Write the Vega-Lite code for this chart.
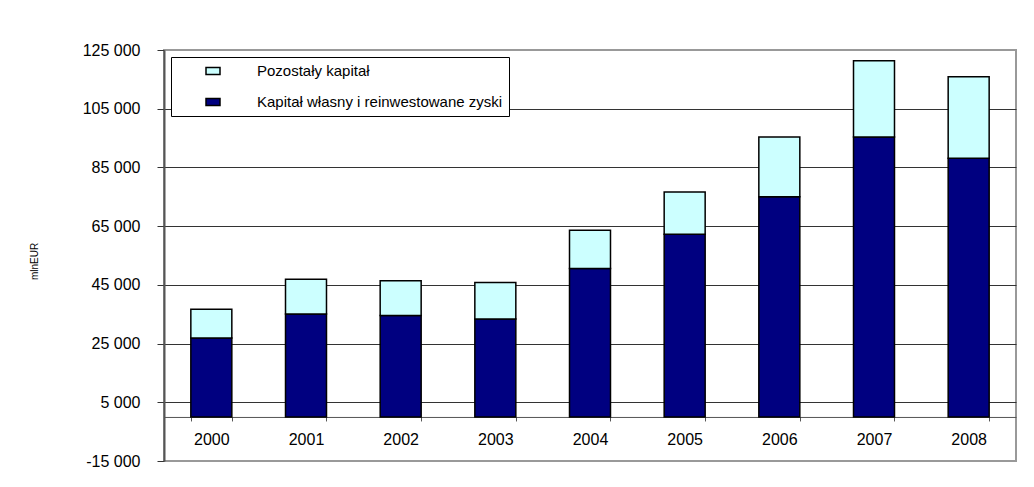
{
  "$schema": "https://vega.github.io/schema/vega-lite/v6.json",
  "width": 852,
  "height": 411,
  "autosize": {"type": "none"},
  "padding": {"left": 164, "top": 50, "right": 18, "bottom": 26},
  "background": "white",
  "data": {
    "values": [
      {"year": "2000", "series": "Kapitał własny i reinwestowane zyski", "value": 26900},
      {"year": "2000", "series": "Pozostały kapitał", "value": 9800},
      {"year": "2001", "series": "Kapitał własny i reinwestowane zyski", "value": 35100},
      {"year": "2001", "series": "Pozostały kapitał", "value": 11800},
      {"year": "2002", "series": "Kapitał własny i reinwestowane zyski", "value": 34600},
      {"year": "2002", "series": "Pozostały kapitał", "value": 11800},
      {"year": "2003", "series": "Kapitał własny i reinwestowane zyski", "value": 33400},
      {"year": "2003", "series": "Pozostały kapitał", "value": 12400},
      {"year": "2004", "series": "Kapitał własny i reinwestowane zyski", "value": 50600},
      {"year": "2004", "series": "Pozostały kapitał", "value": 13000},
      {"year": "2005", "series": "Kapitał własny i reinwestowane zyski", "value": 62200},
      {"year": "2005", "series": "Pozostały kapitał", "value": 14400},
      {"year": "2006", "series": "Kapitał własny i reinwestowane zyski", "value": 75000},
      {"year": "2006", "series": "Pozostały kapitał", "value": 20400},
      {"year": "2007", "series": "Kapitał własny i reinwestowane zyski", "value": 95400},
      {"year": "2007", "series": "Pozostały kapitał", "value": 25900},
      {"year": "2008", "series": "Kapitał własny i reinwestowane zyski", "value": 88100},
      {"year": "2008", "series": "Pozostały kapitał", "value": 27800}
    ]
  },
  "mark": {"type": "bar", "stroke": "black", "strokeWidth": 1.5},
  "encoding": {
    "x": {
      "field": "year",
      "type": "ordinal",
      "scale": {"paddingInner": 0.567, "paddingOuter": 0.2835},
      "axis": {
        "title": null,
        "labelAngle": 0,
        "offset": {"expr": "scale('y', 0) - height"},
        "tickBand": "extent",
        "tickSize": 4,
        "tickColor": "#555",
        "domainColor": "#555",
        "domainWidth": 1,
        "labelPadding": 11,
        "labelFontSize": 16,
        "labelColor": "black",
        "grid": false
      }
    },
    "y": {
      "field": "value",
      "type": "quantitative",
      "stack": "zero",
      "scale": {"domain": [-15000, 125000], "nice": false, "zero": false},
      "axis": {
        "title": "mlnEUR",
        "titleFontSize": 10,
        "titleFontWeight": "normal",
        "titleColor": "black",
        "titleAngle": -90,
        "titleBaseline": "alphabetic",
        "titleX": -126.5,
        "titleY": 211,
        "values": [-15000, 5000, 25000, 45000, 65000, 85000, 105000, 125000],
        "format": ",d",
        "labelFontSize": 16,
        "labelColor": "black",
        "labelPadding": 17,
        "tickSize": 7,
        "tickColor": "#333",
        "domainColor": "#555",
        "domainWidth": 2,
        "grid": true,
        "gridColor": {"condition": {"test": "datum.value == -15000 || datum.value == 125000", "value": "#999"}, "value": "#333"},
        "gridWidth": 1
      }
    },
    "color": {
      "field": "series",
      "type": "nominal",
      "scale": {
        "domain": ["Pozostały kapitał", "Kapitał własny i reinwestowane zyski"],
        "range": ["#CCFFFF", "#000080"]
      },
      "legend": {
        "title": null,
        "orient": "none",
        "legendX": 7,
        "legendY": 7,
        "padding": 6,
        "symbolOffset": 28,
        "labelOffset": 36,
        "rowPadding": 15,
        "labelFontSize": 15,
        "labelLimit": 600,
        "labelColor": "black",
        "symbolType": "M-1,-0.5H1V0.5H-1Z",
        "symbolSize": 196,
        "symbolStrokeColor": "black",
        "symbolStrokeWidth": 1.5,
        "strokeColor": "black",
        "fillColor": "white"
      }
    },
    "order": {"field": "series", "sort": "ascending"}
  },
  "config": {
    "font": "Liberation Sans",
    "locale": {
      "number": {"decimal": ",", "thousands": " ", "grouping": [3], "currency": ["", ""], "minus": "-"}
    },
    "view": {"stroke": "#999", "strokeWidth": 2},
    "axis": {"labelFont": "Liberation Sans", "titleFont": "Liberation Sans"},
    "legend": {"labelFont": "Liberation Sans"}
  }
}
